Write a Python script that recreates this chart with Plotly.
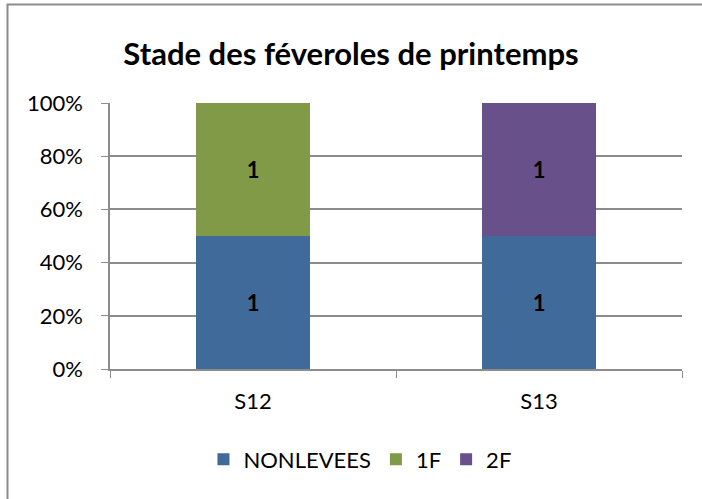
import plotly.graph_objects as go

categories = ["S12", "S13"]
series_names = ["NONLEVEES", "1F", "2F"]
nonlevees = [1, 1]
f1 = [1, 0]
f2 = [0, 1]
colors = ["#406A9A", "#809A48", "#68508A"]
y_ticks = [0, 20, 40, 60, 80, 100]

FONT = "Lato, Open Sans, sans-serif"

fig = go.Figure()
for name, vals, col in zip(series_names, [nonlevees, f1, f2], colors):
    fig.add_trace(go.Bar(
        name=name, x=categories, y=vals, marker_color=col,
        marker_line_width=0,
        text=[str(v) if v else "" for v in vals],
        textposition="inside", insidetextanchor="middle",
        textfont=dict(family=FONT, size=22, color="black", weight="bold"),
        width=0.4,
    ))

fig.update_layout(
    barmode="stack", barnorm="percent",
    width=702, height=499,
    margin=dict(l=110, r=20, t=103, b=130),
    paper_bgcolor="white", plot_bgcolor="white",
    title=dict(text="<b>Stade des féveroles de printemps</b>", x=0.5, xanchor="center",
               y=0.892, yanchor="middle",
               font=dict(family=FONT, size=31, color="black")),
    font=dict(family=FONT, size=22, color="black"),
    legend=dict(orientation="h", x=0.437, xanchor="center", y=-0.34, yanchor="middle",
                font=dict(size=22), traceorder="normal", itemwidth=30),
    showlegend=True,
    uniformtext=dict(mode="show", minsize=22),
)
fig.update_yaxes(range=[0, 100], tickvals=y_ticks, ticktext=[f"{v}%" for v in y_ticks],
                 showgrid=True, gridcolor="#8C8C8C", gridwidth=1.5,
                 showline=True, linecolor="#8C8C8C", linewidth=1.5,
                 ticks="outside", ticklen=7, tickcolor="#8C8C8C",
                 ticklabelstandoff=14, zeroline=False)
fig.update_xaxes(showline=True, linecolor="#8C8C8C", linewidth=1.5,
                 ticks="outside", ticklen=7, tickcolor="#8C8C8C", tickson="boundaries",
                 ticklabelstandoff=12)

fig.add_shape(type="rect", xref="paper", yref="paper",
              x0=(7.5 - 110) / 572, x1=1.2, y0=-0.7, y1=(369 - 4.5) / 266,
              line=dict(color="#8C8C8C", width=2), fillcolor="rgba(0,0,0,0)", layer="below")

fig.write_html("out.html", config={"displayModeBar": False},
               post_script="document.body.style.margin='0';")
